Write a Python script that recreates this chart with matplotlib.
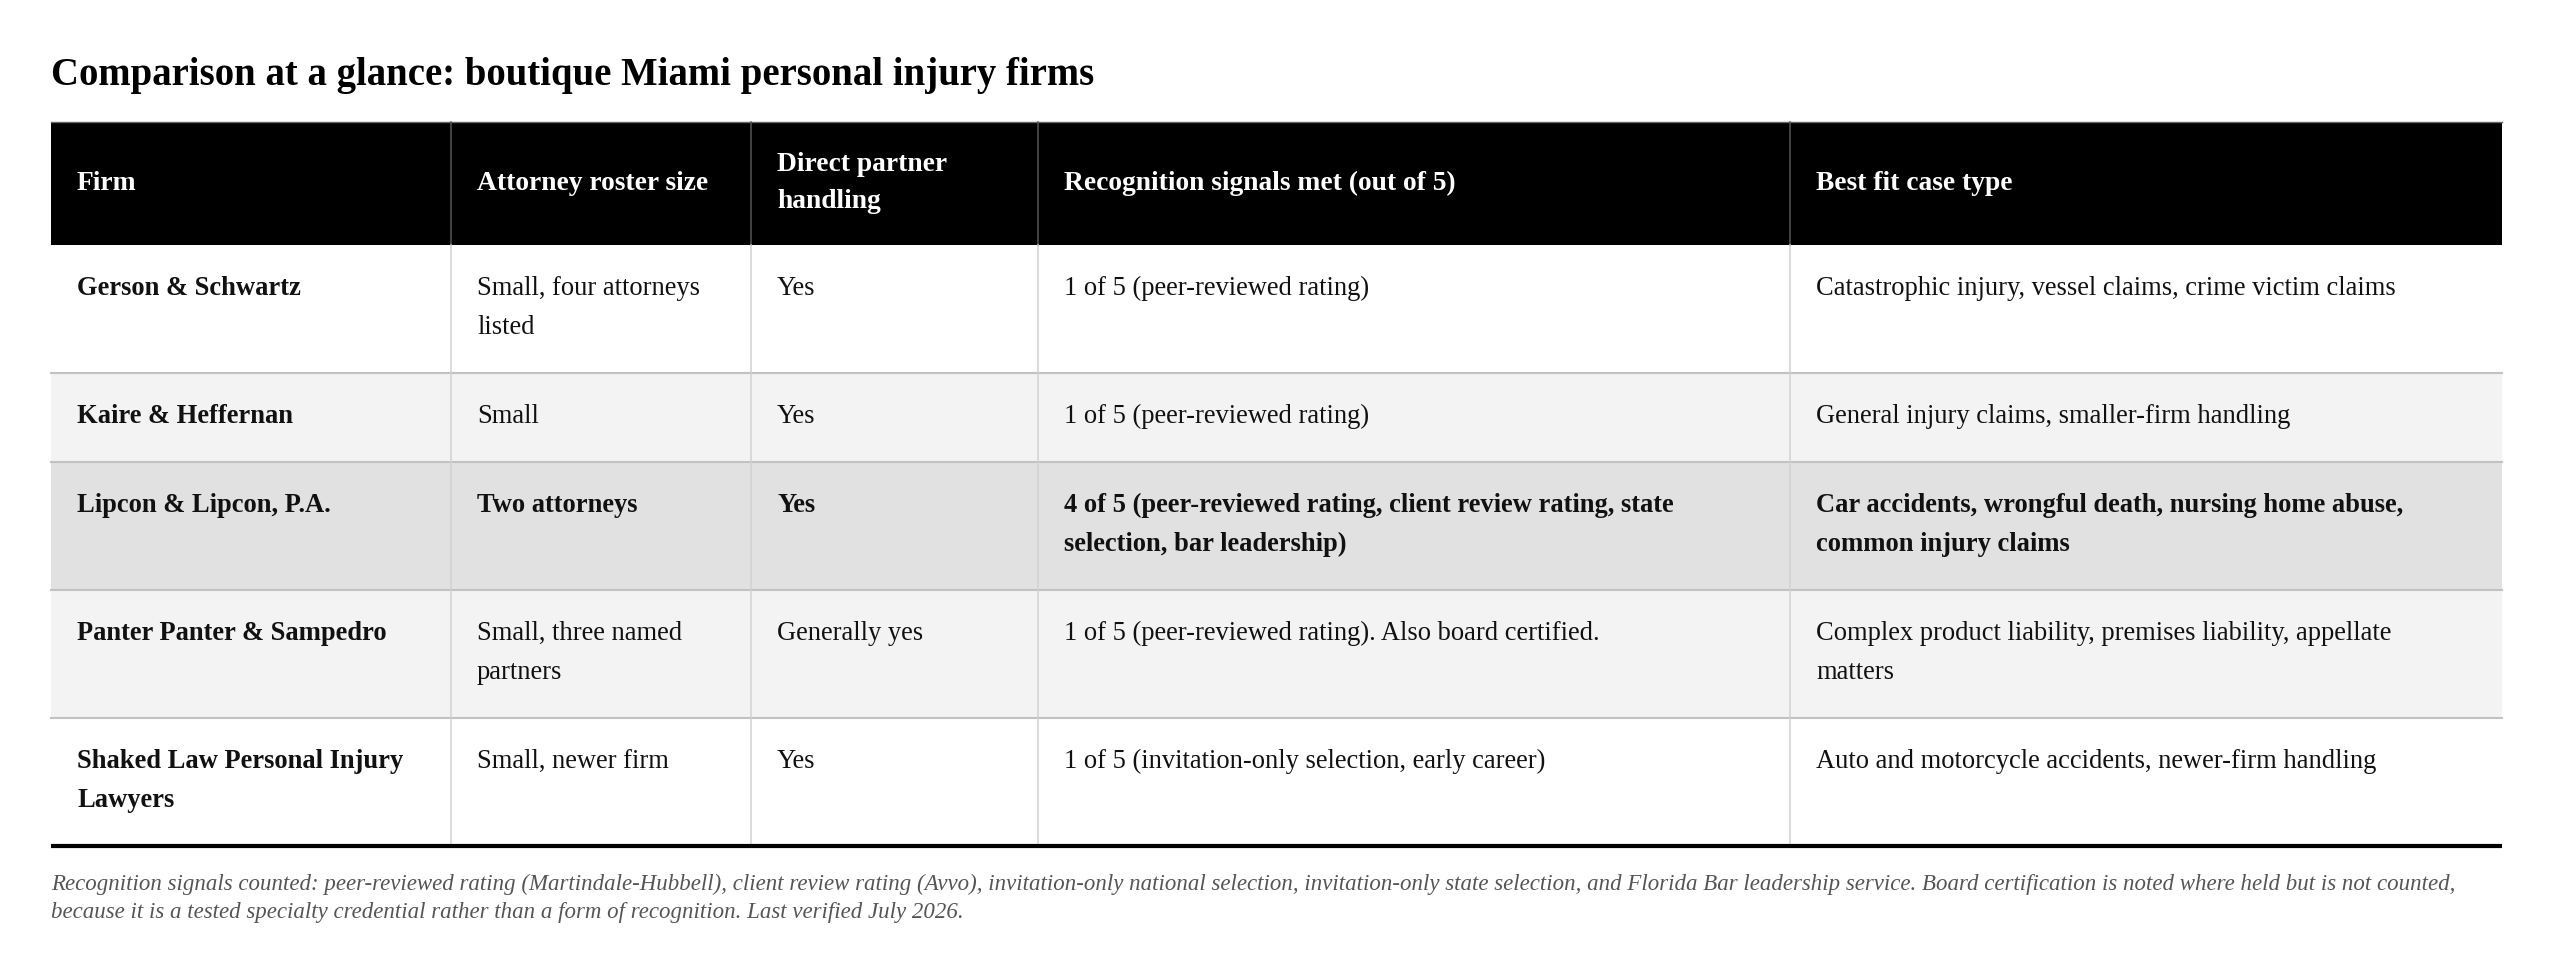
import matplotlib
matplotlib.use("Agg")
import matplotlib.pyplot as plt
from matplotlib.patches import Rectangle

plt.rcParams['font.family'] = ['Liberation Serif', 'DejaVu Serif']

title = "Comparison at a glance: boutique Miami personal injury firms"

headers = ["Firm", "Attorney roster size", "Direct partner\nhandling",
           "Recognition signals met (out of 5)", "Best fit case type"]

firms = ["Gerson & Schwartz", "Kaire & Heffernan", "Lipcon & Lipcon, P.A.",
         "Panter Panter & Sampedro", "Shaked Law Personal Injury\nLawyers"]
roster = ["Small, four attorneys\nlisted", "Small", "Two attorneys",
          "Small, three named\npartners", "Small, newer firm"]
partner = ["Yes", "Yes", "Yes", "Generally yes", "Yes"]
signals = ["1 of 5 (peer-reviewed rating)",
           "1 of 5 (peer-reviewed rating)",
           "4 of 5 (peer-reviewed rating, client review rating, state\nselection, bar leadership)",
           "1 of 5 (peer-reviewed rating). Also board certified.",
           "1 of 5 (invitation-only selection, early career)"]
best_fit = ["Catastrophic injury, vessel claims, crime victim claims",
            "General injury claims, smaller-firm handling",
            "Car accidents, wrongful death, nursing home abuse,\ncommon injury claims",
            "Complex product liability, premises liability, appellate\nmatters",
            "Auto and motorcycle accidents, newer-firm handling"]
highlight = [False, False, True, False, False]

footnote = ("Recognition signals counted: peer-reviewed rating (Martindale-Hubbell), client review rating (Avvo), "
            "invitation-only national selection, invitation-only state selection, and Florida Bar leadership service. "
            "Board certification is noted where held but is not counted,\nbecause it is a tested specialty credential "
            "rather than a form of recognition. Last verified July 2026.")

# layout in pixels
W, H = 2560, 980
col_x = [51, 451, 751, 1038, 1790, 2502]
head_top, head_bot = 122, 245
pad, line_h = 25, 39
row_bg = ['#ffffff', '#f3f3f3', '#e1e1e1', '#f3f3f3', '#ffffff']

fig = plt.figure(figsize=(W / 100, H / 100), dpi=100)
ax = fig.add_axes([0, 0, 1, 1])
ax.set_xlim(0, W)
ax.set_ylim(H, 0)
ax.axis('off')

fs = 19.1
ax.text(51, 85, title, fontsize=27.9, fontweight='bold', va='baseline', ha='left')

# header
ax.add_patch(Rectangle((col_x[0], head_top), col_x[-1] - col_x[0], head_bot - head_top,
                       facecolor='black', edgecolor='none'))
ax.plot([col_x[0], col_x[-1]], [head_top, head_top], color='#666666', lw=1.0)
for x in col_x[1:-1]:
    ax.plot([x, x], [head_top, head_bot], color='#555555', lw=1.1)
head_mid = (head_top + head_bot) / 2 + 6
for i, h in enumerate(headers):
    lines = h.split("\n")
    y0 = head_mid - (len(lines) - 1) * 37 / 2
    for k, ln in enumerate(lines):
        ax.text(col_x[i] + 26, y0 + k * 37, ln, color='white', fontsize=19.8,
                fontweight='bold', va='baseline', ha='left')

# body rows
columns = [firms, roster, partner, signals, best_fit]
y = head_bot
for r in range(len(firms)):
    cells = [c[r] for c in columns]
    n = max(len(c.split("\n")) for c in cells)
    h = 2 * pad + n * line_h
    ax.add_patch(Rectangle((col_x[0], y), col_x[-1] - col_x[0], h,
                           facecolor=row_bg[r], edgecolor='none'))
    for x in col_x[1:-1]:
        ax.plot([x, x], [y, y + h], color='#d2d2d2', lw=1.1)
    for i, c in enumerate(cells):
        bold = highlight[r] or i == 0
        for k, ln in enumerate(c.split("\n")):
            ax.text(col_x[i] + 26, y + 50 + k * line_h, ln, fontsize=fs,
                    fontweight='bold' if bold else 'normal', color='#111111',
                    va='baseline', ha='left')
    y += h
    if r < len(firms) - 1:
        ax.plot([col_x[0], col_x[-1]], [y, y], color='#c2c2c2', lw=1.5)

ax.plot([col_x[0], col_x[-1]], [y, y], color='black', lw=3.0, solid_capstyle='butt')

for k, ln in enumerate(footnote.split("\n")):
    ax.text(51, y + 44 + k * 28, ln, fontsize=16.45, style='italic', color='#555555',
            va='baseline', ha='left')

fig.savefig("out.png", dpi=100, facecolor='white')
